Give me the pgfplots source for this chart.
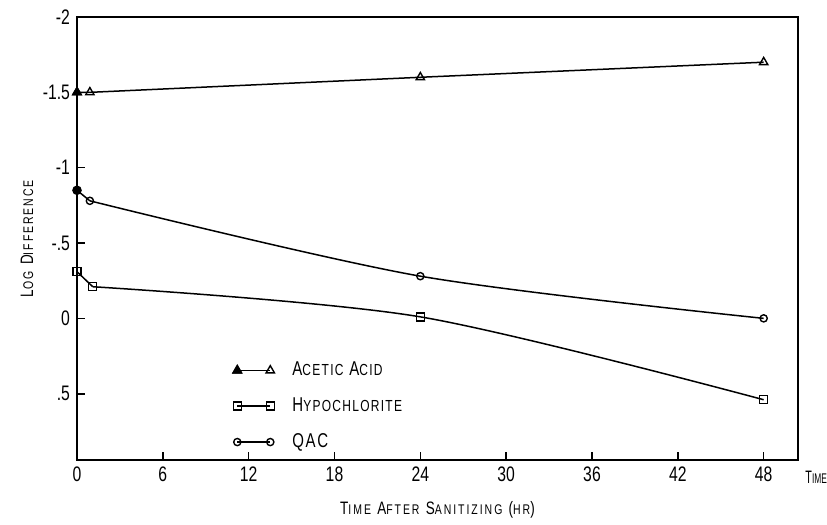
\documentclass[border=0pt]{standalone}
\usepackage{fontspec}
\setmainfont{Liberation Sans}[FakeStretch=0.75]
\newfontfamily\labfont{Liberation Sans}[FakeStretch=0.75, LetterSpace=14]
\newfontfamily\legtextfont{Liberation Sans}[FakeStretch=0.75, LetterSpace=8]
\newfontfamily\narrowfont{Liberation Sans}[FakeStretch=0.6]
\usepackage{pgfplots}
\pgfplotsset{compat=1.18}

% fonts for the different text groups
\newcommand{\tickfont}{\fontsize{10.5}{12}\selectfont}
\newcommand{\labelfont}{\labfont\fontsize{9}{10}\selectfont}
\newcommand{\legfont}{\legtextfont\fontsize{10}{11}\selectfont}
% hand-made small capitals
\newcommand{\Sm}[1]{{\fontsize{7}{8}\selectfont #1}}
\newcommand{\Lsm}[1]{{\fontsize{8}{9}\selectfont #1}}

\begin{document}
\begin{tikzpicture}
\begin{axis}[
  name=ax,
  scale only axis, width=360.5pt, height=221.5pt,
  xmin=0, xmax=50.4, ymin=-2, ymax=0.94,
  y dir=reverse,
  xtick={0,6,...,48},
  ytick={-2,-1.5,-1,-0.5,0,0.5},
  yticklabels={-2,-1.5,-1,-.5,0,.5},
  tick align=inside, tick pos=left,
  major tick length=4pt,
  axis line style={line width=1pt},
  tick style={line width=0.8pt, black},
  /pgf/number format/assume math mode=true,
  ticklabel style={font=\tickfont},
  clip=false,
  xlabel={T\Sm{IME} A\Sm{FTER} S\Sm{ANITIZING} (\Sm{HR})},
  ylabel={L\Sm{OG} D\Sm{IFFERENCE}},
  xlabel style={font=\labelfont, at={([yshift=-25pt]rel axis cs:0.5,0)}, anchor=center},
  ylabel style={font=\labelfont, at={([xshift=-25pt]rel axis cs:0,0.5)}, anchor=center},
  every axis plot/.append style={black, line width=0.75pt, mark size=2pt,
    mark options={solid, line width=0.7pt, fill=white}},
  legend style={draw=none, fill=none, at={(rel axis cs:0.216,0.222)},
    anchor=north west, inner sep=0pt, row sep=9.5pt, column sep=9pt,
    font=\legfont, nodes={inner sep=0pt}},
  legend cell align=left,
]

% Acetic acid
\addplot[mark=triangle, mark size=2.4pt, forget plot]
  coordinates {(0,-1.5) (0.9,-1.5) (24,-1.6) (48,-1.7)};
\addplot[only marks, mark=triangle*, mark size=2.4pt, mark options={fill=black}, forget plot]
  coordinates {(0,-1.5)};

% Hypochlorite
\addplot[mark=square, forget plot]
  coordinates {(0,-0.31) (1.1,-0.21)};
\addplot[smooth, mark=square, mark indices={2,3}, forget plot]
  coordinates {(1.1,-0.21) (24,-0.01) (48,0.54)};

% QAC
\addplot[mark=o, mark size=1.8pt, forget plot]
  coordinates {(0,-0.85) (0.9,-0.78)};
\addplot[only marks, mark=*, mark size=2pt, mark options={fill=black}, forget plot]
  coordinates {(0,-0.85)};
\addplot[smooth, mark=o, mark size=1.8pt, mark indices={2,3}, forget plot]
  coordinates {(0.9,-0.78) (24,-0.28) (48,0.0)};

% legend keys: a short line with a marker at each end
\addlegendimage{legend image code/.code={
  \draw[black, line width=0.75pt, mark=triangle, mark size=2.4pt,
    mark options={fill=white, line width=0.7pt}]
    plot coordinates {(0pt,0pt) (16.5pt,0pt)};
  \draw[black, line width=0.7pt] plot[only marks, mark=triangle*, mark size=2.4pt,
    mark options={fill=black}] coordinates {(0pt,0pt)};}}
\addlegendentry{A\Lsm{CETIC} A\Lsm{CID}}
\addlegendimage{legend image code/.code={
  \draw[black, line width=0.75pt, mark=square, mark size=2pt,
    mark options={fill=white, line width=0.7pt}]
    plot coordinates {(0pt,0pt) (16.5pt,0pt)};}}
\addlegendentry{H\Lsm{YPOCHLORITE}}
\addlegendimage{legend image code/.code={
  \draw[black, line width=0.75pt, mark=o, mark size=1.8pt,
    mark options={fill=white, line width=0.7pt}]
    plot coordinates {(0pt,0pt) (16.5pt,0pt)};}}
\addlegendentry{QAC}
\end{axis}

% axis-end caption at the right of the time axis
\node[anchor=west, inner sep=0pt, font=\narrowfont\fontsize{9}{10}\selectfont]
  at ([shift={(3.5pt,-8.5pt)}]ax.south east) {T\Sm{IME}};

\pgfresetboundingbox
\path[use as bounding box] ([shift={(-38.5pt,-32.5pt)}]ax.south west)
  rectangle ([shift={(14.5pt,8.5pt)}]ax.north east);
\end{tikzpicture}
\end{document}
